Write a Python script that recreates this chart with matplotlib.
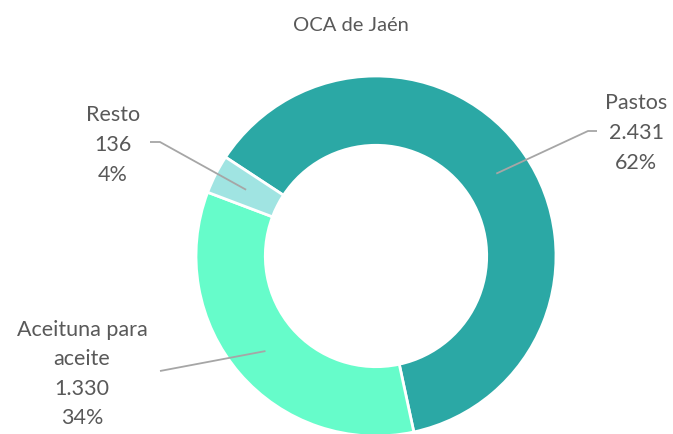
import numpy as np
import matplotlib
matplotlib.use("Agg")
import matplotlib.pyplot as plt

title = "OCA de Jaén"
categories = ["Pastos", "Aceituna para\naceite", "Resto"]
values = [2431, 1330, 136]
value_labels = ["2.431", "1.330", "136"]
pct_labels = ["62%", "34%", "4%"]
colors = ["#2ba8a5", "#66fcca", "#a0e4e2"]

W, H, DPI = 673, 435, 100
fig = plt.figure(figsize=(W / DPI, H / DPI), dpi=DPI)
ax = fig.add_axes([0, 0, 1, 1])
R = 180.0
cx, cy = 376.0, 257.0

wedges, _ = ax.pie(values, colors=colors, startangle=146.7, counterclock=False,
                   radius=1.0, wedgeprops=dict(width=0.385, edgecolor="white", linewidth=2))
ax.set_aspect("auto")
ax.set_xlim(-cx / R, (W - cx) / R)
ax.set_ylim(-(H - cy) / R, cy / R)
ax.axis("off")

def px(x, y):
    return (x - cx) / R, (cy - y) / R

text_kw = dict(fontsize=15.5, color="#595959", family=["Lato", "DejaVu Sans"],
               ha="center", va="center", linespacing=1.6)

# label positions (px) and leader elbows
label_pos = [(636, 133), (82, 374), (113, 145)]
elbows = [[(588, 132), (597, 132)], [(160, 372)], [(160, 143), (150, 143)]]

for w, cat, v, p, lp, el in zip(wedges, categories, value_labels, pct_labels, label_pos, elbows):
    mid = np.deg2rad((w.theta1 + w.theta2) / 2)
    r = 0.81
    xs = [r * np.cos(mid)] + [px(*e)[0] for e in el]
    ys = [r * np.sin(mid)] + [px(*e)[1] for e in el]
    ax.plot(xs, ys, color="#a6a6a6", lw=1.3, solid_capstyle="butt")
    ax.text(*px(*lp), f"{cat}\n{v}\n{p}", **text_kw)

ax.text(*px(351, 25), title, fontsize=14.5, color="#595959",
        family=["Lato", "DejaVu Sans"], ha="center", va="center")

fig.savefig("out.png", dpi=DPI)
